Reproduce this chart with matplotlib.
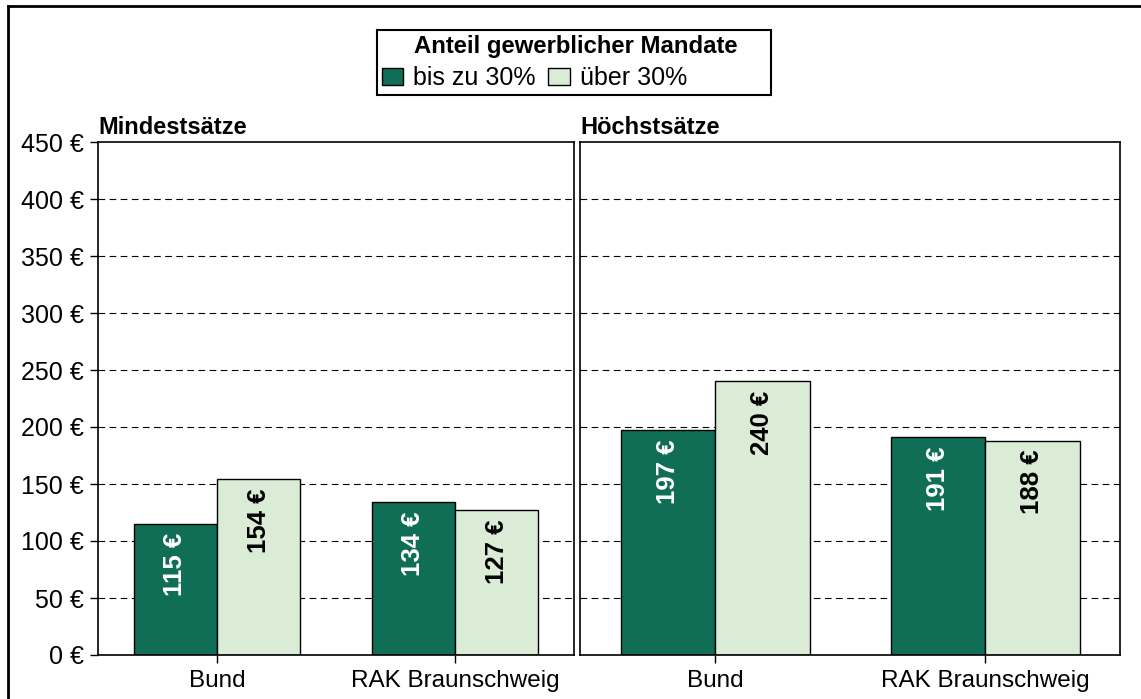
import numpy as np
import matplotlib
matplotlib.use("Agg")
import matplotlib.pyplot as plt
from matplotlib.lines import Line2D
from matplotlib.patches import Patch, Rectangle

plt.rcParams['font.family'] = ['Liberation Sans', 'DejaVu Sans']

categories = ["Bund", "RAK Braunschweig"]
panels = ["Mindestsätze", "Höchstsätze"]
series_names = ["bis zu 30%", "über 30%"]
legend_title = "Anteil gewerblicher Mandate"
# Werte je Panel: [bis zu 30%, über 30%] pro Kategorie
min_low = [115, 134]
min_high = [154, 127]
max_low = [197, 191]
max_high = [240, 188]
yticks = [0, 50, 100, 150, 200, 250, 300, 350, 400, 450]

dark = "#116E56"
light = "#DAECD6"

W, H = 1141, 699
fig = plt.figure(figsize=(W / 100, H / 100), dpi=100)

ax1 = fig.add_axes([98 / W, 1 - 655 / H, (574 - 98) / W, (655 - 142) / H])
ax2 = fig.add_axes([580 / W, 1 - 655 / H, (1120 - 580) / W, (655 - 142) / H])

x = np.arange(len(categories))
w = 0.35
fs = 17

for ax, low, high, title in [(ax1, min_low, min_high, panels[0]),
                             (ax2, max_low, max_high, panels[1])]:
    for y in yticks[1:-1]:
        ax.axhline(y, color="black", lw=0.8, ls=(0, (6, 4)), zorder=0)
    ax.bar(x - w / 2, low, w, color=dark, edgecolor="black", lw=1, zorder=2)
    ax.bar(x + w / 2, high, w, color=light, edgecolor="black", lw=1, zorder=2)
    for xi, v in zip(x - w / 2, low):
        ax.annotate(f"{v} €", xy=(xi, v), xytext=(0, -6.5), textcoords="offset points",
                    rotation=90, ha="center", va="top", color="white",
                    fontsize=18.5, fontweight="bold", zorder=3)
    for xi, v in zip(x + w / 2, high):
        ax.annotate(f"{v} €", xy=(xi, v), xytext=(0, -6.5), textcoords="offset points",
                    rotation=90, ha="center", va="top", color="black",
                    fontsize=18.5, fontweight="bold", zorder=3)
    ax.set_xlim(-0.5, 1.5)
    ax.set_ylim(0, 450)
    ax.set_xticks(x)
    ax.set_xticklabels(categories, fontsize=17.5)
    ax.tick_params(axis="x", direction="out", length=6, width=1, pad=5)
    for s in ax.spines.values():
        s.set_linewidth(1.2)
        s.set_color("black")
    ax.text(0.0, 1.006, title, transform=ax.transAxes, ha="left", va="bottom",
            fontsize=fs, fontweight="bold")

ax1.set_yticks(yticks)
ax1.set_yticklabels([f"{t} €" for t in yticks], fontsize=18)
ax1.tick_params(axis="y", direction="out", length=6, width=1, pad=4)
ax2.set_yticks([])

# Legende: Rahmen, Titel und Einträge getrennt gesetzt
fig.add_artist(Rectangle((377 / W, 1 - 95 / H), (771 - 377) / W, (95 - 30) / H,
                         transform=fig.transFigure, fill=False, edgecolor="black", lw=1.5))
fig.text(576 / W, 1 - 47 / H, legend_title, ha="center", va="center",
         fontsize=17.2, fontweight="bold")
handles = [Patch(facecolor=dark, edgecolor="black", lw=1),
           Patch(facecolor=light, edgecolor="black", lw=1)]
fig.legend(handles, series_names, loc="center left", ncol=2,
           bbox_to_anchor=(382 / W, 1 - 78 / H), frameon=False,
           fontsize=18, handlelength=0.85, handleheight=0.65, handletextpad=0.4,
           columnspacing=0.5, borderpad=0, borderaxespad=0)

# Rahmen um das Diagramm
fig.add_artist(Line2D([8 / W, 8 / W], [0, 1 - 6 / H], color="black", lw=2))
fig.add_artist(Line2D([8 / W, 1], [1 - 6 / H, 1 - 6 / H], color="black", lw=2))

fig.savefig("out.png", dpi=100)
